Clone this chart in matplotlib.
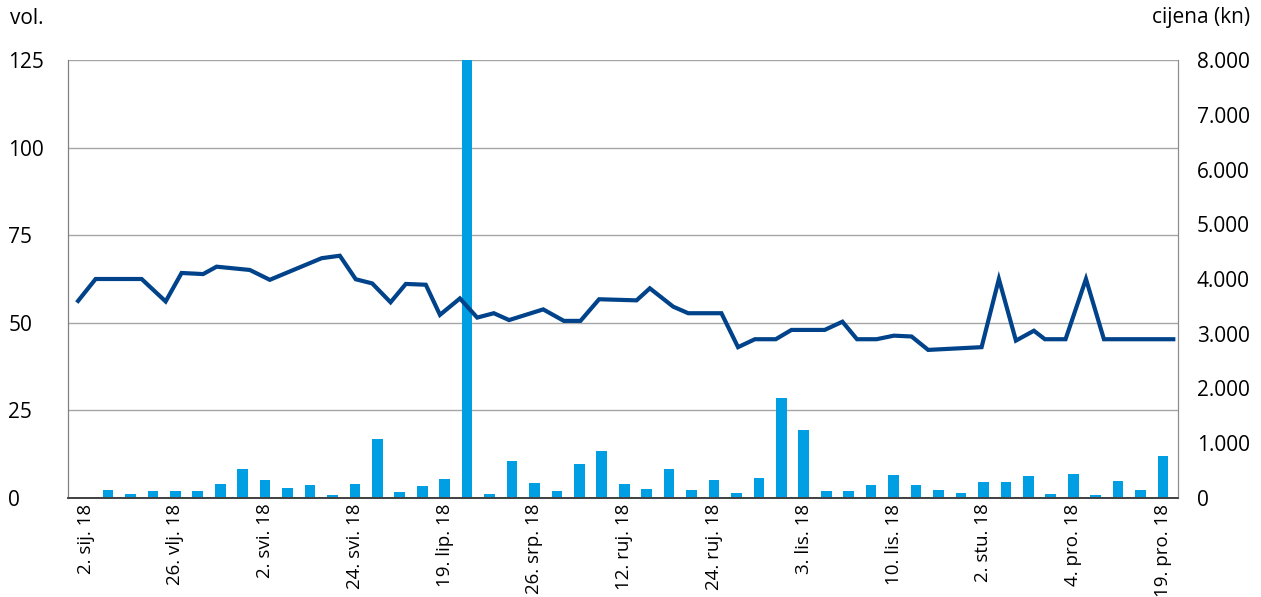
import matplotlib
matplotlib.use("Agg")
import matplotlib.pyplot as plt
from matplotlib.ticker import FuncFormatter

plt.rcParams['font.family'] = ['Open Sans', 'DejaVu Sans']

# ---- data ----
volume = [0, 2.3, 1.2, 2.1, 2.0, 2.0, 4.0, 8.4, 5.0, 2.9, 3.6, 0.95, 4.1,
          16.9, 1.7, 3.3, 5.4, 180, 1.0, 10.5, 4.3, 2.0, 9.6, 13.4, 4.1,
          2.5, 8.2, 2.4, 5.0, 1.3, 5.8, 28.6, 19.5, 2.0, 1.9, 3.8, 6.7,
          3.6, 2.3, 1.4, 4.7, 4.7, 6.4, 1.2, 6.8, 0.95, 4.9, 2.4, 11.9]

tick_labels = ["2. sij. 18", "26. vlj. 18", "2. svi. 18", "24. svi. 18",
               "19. lip. 18", "26. srp. 18", "12. ruj. 18", "24. ruj. 18",
               "3. lis. 18", "10. lis. 18", "2. stu. 18", "4. pro. 18",
               "19. pro. 18"]

# price series (position along the category axis, price in kn)
price_x = [-0.33, 0.45, 2.50, 3.57, 4.28, 5.24, 5.84, 7.32, 8.21, 10.52,
           11.33, 12.04, 12.77, 13.59, 14.27, 15.16, 15.79, 16.68, 17.45,
           18.19, 18.87, 20.39, 21.31, 22.05, 22.88, 24.55, 25.14, 26.18,
           26.85, 28.33, 29.07, 29.82, 30.75, 31.45, 32.93, 33.72, 34.37,
           35.24, 36.01, 36.80, 37.54, 39.92, 40.69, 41.45, 42.25, 42.74,
           43.66, 44.57, 45.37, 48.46]
price = [3600, 4000, 4000, 3590, 4110, 4090, 4225, 4165, 3985, 4380,
         4425, 3995, 3920, 3575, 3910, 3895, 3345, 3645, 3295, 3375,
         3250, 3445, 3235, 3235, 3630, 3610, 3830, 3495, 3375, 3375,
         2755, 2900, 2900, 3070, 3070, 3220, 2900, 2900, 2965, 2950,
         2705, 2755, 4000, 2875, 3055, 2900, 2900, 4000, 2900, 2900]

bar_color = '#009FE3'
line_color = '#00438A'

fig = plt.figure(figsize=(12.61, 5.97), dpi=100)
ax = fig.add_axes([68/1261, 1-498/597, (1178-68)/1261, (498-60)/597])
ax2 = ax.twinx()

x = list(range(len(volume)))
ax.bar(x, volume, width=0.475, color=bar_color, zorder=2)
ax.set_ylim(0, 125)
ax.set_xlim(-0.78, 48.67)
ax.set_yticks([0, 25, 50, 75, 100, 125])
ax.yaxis.grid(True, color='#A6A6A6', linewidth=1)
ax.set_axisbelow(True)
ax.set_xticks(list(range(0, 49, 4)))
ax.set_xticklabels(tick_labels, rotation=90, fontsize=13.5, ha='center', va='top')
ax.tick_params(axis='x', length=0, pad=4)
ax.tick_params(axis='y', length=0, pad=43, labelsize=15)
for t in ax.get_yticklabels():
    t.set_ha('left')

ax2.plot(price_x, price, color=line_color, linewidth=3, solid_joinstyle='miter', zorder=3)
ax2.set_ylim(0, 8000)
ax2.set_yticks(range(0, 8001, 1000))
ax2.yaxis.set_major_formatter(FuncFormatter(lambda v, p: f"{int(v):,}".replace(",", ".")))
ax2.tick_params(axis='y', length=0, pad=13.5, labelsize=15)

for a in (ax, ax2):
    a.spines['top'].set_visible(False)
    a.spines['left'].set_color('#7F7F7F')
    a.spines['right'].set_color('#8C8C8C')
    a.spines['bottom'].set_color('#404040')
    a.spines['bottom'].set_linewidth(1.2)

fig.text(10/1261, 1-18/597, "vol.", fontsize=15, ha='left', va='center')
fig.text(1250/1261, 1-18/597, "cijena (kn)", fontsize=15, ha='right', va='center')

fig.savefig("out.png", dpi=100)
